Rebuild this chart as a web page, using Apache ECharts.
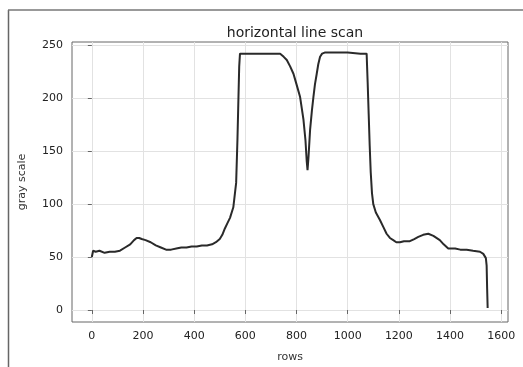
<!DOCTYPE html>
<html>
<head>
<meta charset="utf-8">
<script src="https://cdn.jsdelivr.net/npm/echarts@6/dist/echarts.min.js"></script>
<style>
html,body{margin:0;padding:0;background:#fff;}
#chart{width:523px;height:367px;}
</style>
</head>
<body>
<div id="chart"></div>
<script>
// Data
var rows = [0, 5, 15, 30, 50, 70, 90, 110, 130, 150, 165, 175, 185, 195, 210, 230, 250, 270, 290, 310, 330, 350, 370, 390, 410, 430, 450, 470, 485, 500, 510, 520, 530, 540, 553, 564, 569, 572, 576, 579, 600, 650, 700, 736, 750, 762, 775, 788, 800, 814, 827, 835, 840, 843, 847, 853, 860, 866, 872, 879, 885, 892, 900, 910, 950, 1000, 1050, 1074, 1078, 1082, 1086, 1090, 1095, 1100, 1110, 1126, 1140, 1152, 1165, 1178, 1190, 1204, 1220, 1243, 1260, 1276, 1295, 1315, 1335, 1360, 1375, 1393, 1420, 1440, 1465, 1490, 1517, 1530, 1540, 1543, 1545, 1547];
var grayScale = [50, 56, 55, 56, 54, 55, 55, 56, 59, 62, 66, 68, 68, 67, 66, 64, 61, 59, 57, 57, 58, 59, 59, 60, 60, 61, 61, 62, 64, 67, 71, 77, 82, 87, 97, 120, 160, 190, 230, 242, 242, 242, 242, 242, 239, 236, 230, 223, 213, 201, 180, 160, 140, 132, 145, 170, 188, 201, 213, 223, 232, 239, 242, 243, 243, 243, 242, 242, 215, 185, 155, 130, 110, 100, 92, 85, 78, 72, 68, 66, 64, 64, 65, 65, 67, 69, 71, 72, 70, 66, 62, 58, 58, 57, 57, 56, 55, 53, 49, 42, 20, 2];
var xTicks = [0, 200, 400, 600, 800, 1000, 1200, 1400, 1600];
var yTicks = [0, 50, 100, 150, 200, 250];
var titleText = 'horizontal line scan';
var xName = 'rows';
var yName = 'gray scale';

var points = rows.map(function (r, i) { return [r, grayScale[i]]; });
var FONT = 'DejaVu Sans';
function plain(v) { return String(v); }

var chart = echarts.init(document.getElementById('chart'), null, {renderer: 'canvas'});
chart.setOption({
  animation: false,
  backgroundColor: '#ffffff',
  title: {
    text: titleText,
    left: 290, top: 21, textAlign: 'center',
    textStyle: {fontFamily: FONT, fontSize: 14, fontWeight: 'normal', color: '#222'}
  },
  grid: {left: 72, right: 15, top: 42, bottom: 45, show: true, borderColor: '#666', borderWidth: 1, outerBoundsMode: 'none', containLabel: false},
  xAxis: {
    type: 'value', min: -77.5, max: 1626.5,
    name: xName, nameLocation: 'middle', nameGap: 30,
    nameTextStyle: {fontFamily: FONT, fontSize: 11, color: '#333'},
    axisLine: {show: false},
    axisTick: {show: true, customValues: xTicks, length: 4, lineStyle: {color: '#666'}},
    axisLabel: {customValues: xTicks, formatter: plain, margin: 9, fontFamily: FONT, fontSize: 11, color: '#222'},
    splitLine: {show: true, lineStyle: {color: '#e2e2e2', width: 1}}
  },
  yAxis: {
    type: 'value', min: -11.3, max: 253,
    name: yName, nameLocation: 'middle', nameGap: 44,
    nameTextStyle: {fontFamily: FONT, fontSize: 11, color: '#333'},
    axisLine: {show: false},
    axisTick: {show: true, customValues: yTicks, length: 4, lineStyle: {color: '#666'}},
    axisLabel: {customValues: yTicks, formatter: plain, margin: 9, fontFamily: FONT, fontSize: 11, color: '#222'},
    splitLine: {show: true, lineStyle: {color: '#e2e2e2', width: 1}}
  },
  series: [{
    type: 'line', data: points, showSymbol: false, symbol: 'none',
    lineStyle: {color: '#2a2a2a', width: 2}
  }],
  graphic: [
    {type: 'line', shape: {x1: 8.5, y1: 10, x2: 8.5, y2: 367}, style: {stroke: '#666', lineWidth: 1.5}, silent: true},
    {type: 'line', shape: {x1: 8, y1: 10, x2: 523, y2: 10}, style: {stroke: '#777', lineWidth: 1.5}, silent: true}
  ]
});
</script>
</body>
</html>
